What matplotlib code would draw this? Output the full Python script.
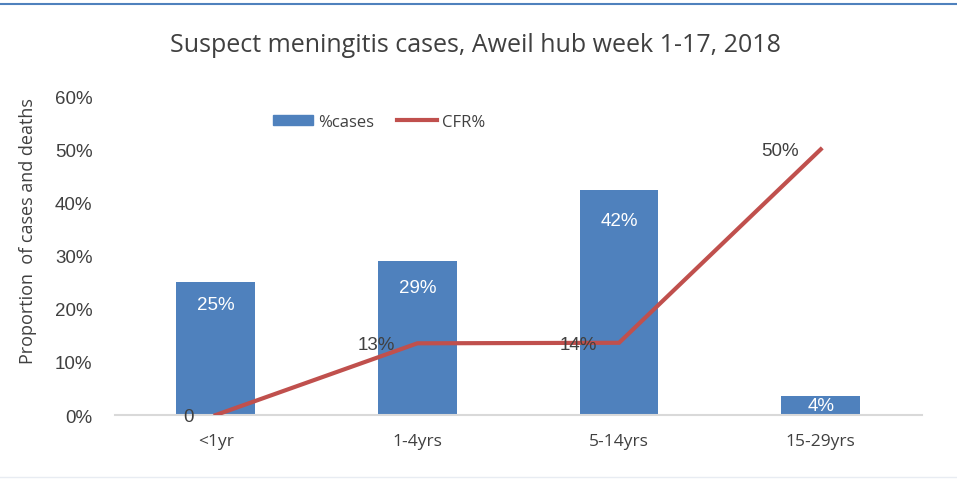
import matplotlib
matplotlib.use("Agg")
import matplotlib.pyplot as plt
from matplotlib.ticker import PercentFormatter
from matplotlib.lines import Line2D

categories = ["<1yr", "1-4yrs", "5-14yrs", "15-29yrs"]
pct_cases = [25, 29, 42.4, 3.6]
case_labels = ["25%", "29%", "42%", "4%"]
cfr = [0, 13.5, 13.6, 50]
cfr_labels = ["0", "13%", "14%", "50%"]
yticks = [0, 10, 20, 30, 40, 50, 60]

BAR = "#4F81BD"
LINE = "#C0504D"
TXT = "#404040"
NUMFONT = "Liberation Sans"

fig = plt.figure(figsize=(9.57, 4.81), dpi=100)
ax = fig.add_axes([0.120, 0.135, 0.843, 0.663])

x = list(range(len(categories)))
ax.bar(x, pct_cases, width=0.39, color=BAR, zorder=2)
ax.plot(x, cfr, color=LINE, lw=3.0, zorder=3, solid_joinstyle="miter")

ax.set_xlim(-0.5, 3.5)
ax.set_ylim(0, 60)
ax.set_yticks(yticks)
ax.yaxis.set_major_formatter(PercentFormatter(decimals=0))
ax.set_xticks(x)
ax.set_xticklabels(categories, fontsize=12.5, color=TXT, family="Open Sans")
for lbl in ax.get_yticklabels():
    lbl.set_fontsize(13.5)
    lbl.set_color(TXT)
    lbl.set_family(NUMFONT)
ax.tick_params(axis="both", length=0)
ax.tick_params(axis="x", pad=13)
ax.tick_params(axis="y", pad=16)
for s in ["top", "right", "left"]:
    ax.spines[s].set_visible(False)
ax.spines["bottom"].set_color("#D9D9D9")
ax.spines["bottom"].set_linewidth(1.5)

# bar labels (inside end)
offsets = [-16, -19, -22, -7]
for xi, v, lab, off in zip(x, pct_cases, case_labels, offsets):
    ax.annotate(lab, (xi, v), xytext=(0, off), textcoords="offset points",
                ha="center", va="center", color="white", fontsize=13.5,
                family=NUMFONT, zorder=4)

# line labels (left)
for xi, v, lab in zip(x, cfr, cfr_labels):
    ax.annotate(lab, (xi, v), xytext=(-16, -1), textcoords="offset points",
                ha="right", va="center", color=TXT, fontsize=13.5,
                family=NUMFONT, zorder=4)

ax.set_ylabel("Proportion  of cases and deaths", fontsize=13, color=TXT,
              family="Open Sans")
ax.yaxis.set_label_coords(-0.097, 0.58)

handles = [plt.Rectangle((0, 0), 1, 1, color=BAR),
           Line2D([0], [0], color=LINE, lw=3)]
leg = ax.legend(handles, ["%cases", "CFR%"], loc="center", bbox_to_anchor=(0.328, 0.92),
                ncol=2, frameon=False, fontsize=12, handlelength=2.4, handleheight=0.55,
                columnspacing=1.4, handletextpad=0.3)
for t in leg.get_texts():
    t.set_color(TXT)
    t.set_family("Open Sans")

fig.text(0.497, 0.905, "Suspect meningitis cases, Aweil hub week 1-17, 2018",
         ha="center", va="center", fontsize=18, color=TXT, family="Open Sans")

# frame lines of the picture
fig.add_artist(Line2D([0, 1], [0.990, 0.990], transform=fig.transFigure,
                      color="#4F81BD", lw=1.5))
fig.add_artist(Line2D([0, 1], [0.006, 0.006], transform=fig.transFigure,
                      color="#E8ECF2", lw=1.0))

fig.savefig("out.png", dpi=100)
